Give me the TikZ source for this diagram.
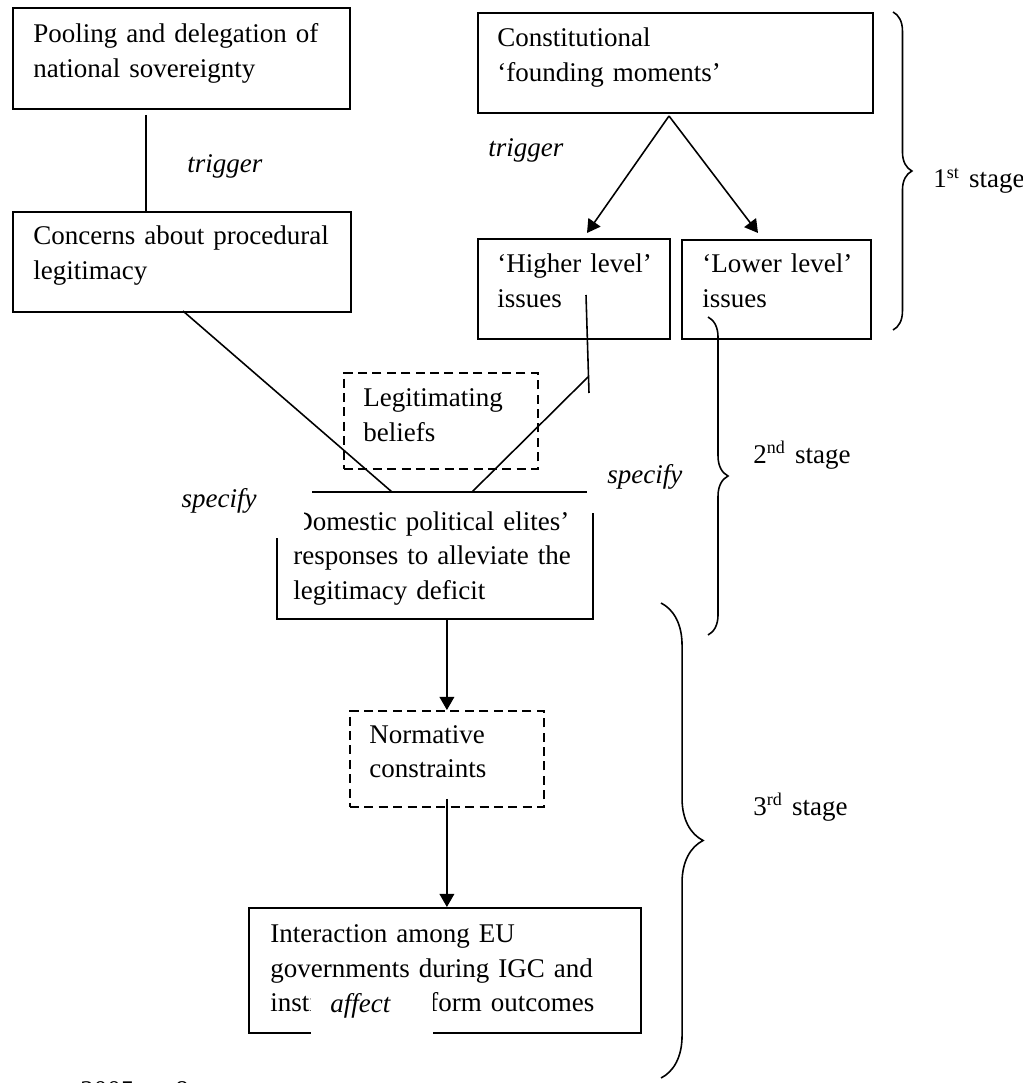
\documentclass[tikz,border=0pt]{standalone}
\usepackage{fontspec}
\setmainfont{Liberation Serif}
\usetikzlibrary{arrows.meta,decorations.pathreplacing}
\newcommand{\px}{0.4444pt}
\newcommand{\tfont}{\fontsize{12}{15.55}\selectfont}

\tikzset{
  box/.style={draw, line width=0.8pt, anchor=north west, inner sep=0pt},
  dbox/.style={box, dash pattern=on 4pt off 2.4pt},
  txt/.style={anchor=base west, inner sep=0pt, text width=150pt, align=left, font=\tfont},
  lbl/.style={anchor=base west, inner sep=0pt, font=\tfont\itshape},
  link/.style={line width=0.7pt},
  arr/.style={link, -{Triangle[length=5.8pt,width=6.5pt]}},
  stagebrace/.style={decorate, line width=0.7pt, decoration={brace, amplitude=#1}}
}

\begin{document}
\begin{tikzpicture}[x=\px, y=-\px]
\useasboundingbox (0,0) rectangle (1022,1083);

%%% Left column
\node[box, minimum width=337*\px, minimum height=101*\px] (pool) at (12,7) {};
\node[txt] (pooltxt) at (33,43) {Pooling and delegation of\\national sovereignty};
\node[box, minimum width=338*\px, minimum height=100*\px] (conc) at (12,211) {};
\node[txt] (conctxt) at (33,245) {Concerns about procedural\\legitimacy};

\coordinate (poolfoot) at (146,115);
\draw[link] (poolfoot) -- (poolfoot |- conc.north);
\node[lbl] (trigL) at (187,173) {trigger};

%%% Right column
\node[box, minimum width=395*\px, minimum height=100*\px] (const) at (477,12) {};
\node[txt] (consttxt) at (497,47) {Constitutional\\`founding moments'};
\node[box, minimum width=192*\px, minimum height=100*\px] (higher) at (477,238) {};
\node[txt] (highertxt) at (497,273) {`Higher level'\\issues};
\node[box, minimum width=189*\px, minimum height=99*\px] (lower) at (681,239) {};
\node[txt] (lowertxt) at (702,273) {`Lower level'\\issues};

\coordinate (apex) at (669,116);
\coordinate (hitip) at (587,233);
\coordinate (lotip) at (758,233);
\draw[arr] (apex) -- (hitip);
\draw[arr] (apex) -- (lotip);
\node[lbl] (trigR) at (488,157) {trigger};

%%% Middle
\node[dbox, minimum width=194*\px, minimum height=96*\px] (legit) at (343,372) {};
\node[txt] (legittxt) at (363,407) {Legitimating\\beliefs};

\node[inner sep=0pt, anchor=north west, minimum width=315*\px, minimum height=126*\px] (dom) at (277,492) {};
\draw[line width=0.8pt] (dom.north west) ++(35,0) -- ++(275,0);
\draw[line width=0.8pt] (dom.north east) ++(0,21) -- (dom.south east) -- (dom.south west) -- ++(0,-81);
\node[txt] (domtxt) at (293,530) {Domestic political elites'\\responses to alleviate the\\legitimacy deficit};

\coordinate (concfoot) at (183,311);
\coordinate (domL) at (392,492);
\coordinate (domR) at (472,492);
\coordinate (hitop) at (586,295);
\coordinate (hibot) at (589,393);
\coordinate (hijoin) at (588,377);
\draw[link] (concfoot) -- (domL);
\draw[link] (hitop) -- (hibot);
\draw[link] (hijoin) -- (domR);

\fill[white] (190,470) rectangle (304,537);
\node[lbl, anchor=base east] (specL) at (257,507) {specify};
\node[lbl] (specR) at (607,483) {specify};

%%% Bottom
\node[dbox, minimum width=194*\px, minimum height=96*\px] (norm) at (349,710) {};
\node[txt] (normtxt) at (369,743) {Normative\\constraints};
\node[box, minimum width=392*\px, minimum height=125*\px] (inter) at (248,907) {};
\node[txt] (intertxt) at (270,942) {Interaction among EU\\governments during IGC and\\institutional reform outcomes};

\draw[arr] (norm.north |- dom.south) -- (norm.north);
\draw[arr] ([yshift=9*\px]norm.south) -- (norm.south |- inter.north);

\fill[white] (311,988) rectangle (433,1040);
\node[lbl] (affect) at (330,1012) {affect};

%%% Stages
\draw[stagebrace=8.4pt] (893,12) -- (893,330);
\node[txt] (st1) at (933,188) {1\textsuperscript{st} stage};
\draw[stagebrace=8.9pt] (708,317) -- (708,635);
\node[txt] (st2) at (753,463) {2\textsuperscript{nd} stage};
\draw[stagebrace=18.7pt] (661,603) -- (661,1078);
\node[txt] (st3) at (753,815) {3\textsuperscript{rd} stage};

%%% cut-off source line
\node[txt] (srcyear) at (80,1099) {2005};
\node[txt] (srcpage) at (175,1099) {8};
\end{tikzpicture}
\end{document}
